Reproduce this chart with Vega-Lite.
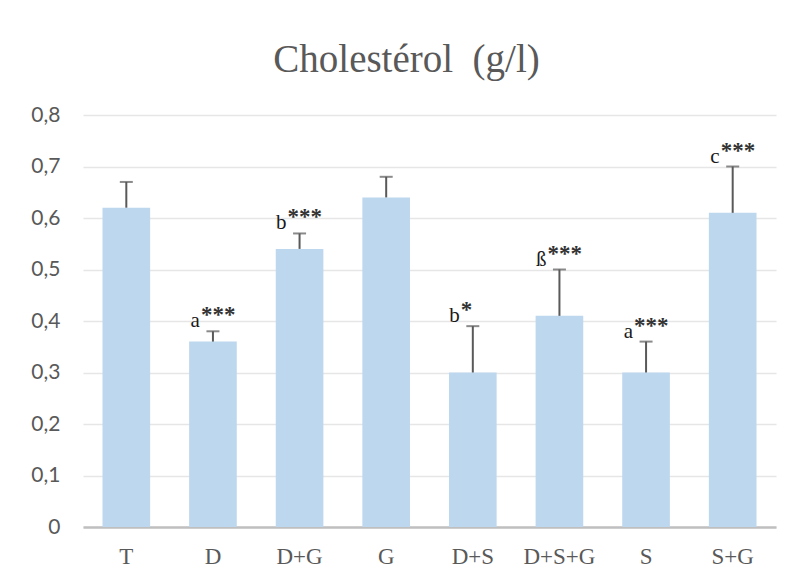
{
  "$schema": "https://vega.github.io/schema/vega-lite/v6.json",
  "width": 693,
  "height": 412,
  "autosize": {"type": "none"},
  "padding": {"left": 83, "top": 115, "right": 18, "bottom": 52},
  "background": "white",
  "title": {
    "text": "Cholestérol\u00a0 (g/l)",
    "font": "Liberation Serif, Times New Roman, serif",
    "fontSize": 39,
    "fontWeight": "normal",
    "color": "#595959",
    "anchor": "middle",
    "baseline": "alphabetic",
    "offset": -7,
    "dx": -23
  },
  "data": {
    "values": [
      {"group": "T", "mean": 0.62, "upper": 0.67, "letter": null, "stars": null},
      {"group": "D", "mean": 0.36, "upper": 0.38, "letter": "a", "stars": "***"},
      {"group": "D+G", "mean": 0.54, "upper": 0.57, "letter": "b", "stars": "***"},
      {"group": "G", "mean": 0.64, "upper": 0.68, "letter": null, "stars": null},
      {"group": "D+S", "mean": 0.30, "upper": 0.39, "letter": "b", "stars": "*"},
      {"group": "D+S+G", "mean": 0.41, "upper": 0.50, "letter": "ß", "stars": "***"},
      {"group": "S", "mean": 0.30, "upper": 0.36, "letter": "a", "stars": "***"},
      {"group": "S+G", "mean": 0.61, "upper": 0.70, "letter": "c", "stars": "***"}
    ]
  },
  "encoding": {
    "x": {
      "field": "group",
      "type": "nominal",
      "sort": null,
      "scale": {"paddingInner": 0.45, "paddingOuter": 0.225},
      "axis": {
        "title": null,
        "labelAngle": 0,
        "labelFont": "Liberation Serif",
        "labelFontSize": 23,
        "labelColor": "#595959",
        "labelPadding": 18,
        "ticks": false,
        "tickSize": 0,
        "domainColor": "#BFBFBF",
        "domainWidth": 2.5,
        "grid": false
      }
    }
  },
  "layer": [
    {
      "mark": {"type": "bar", "color": "#BDD7EE"},
      "encoding": {
        "y": {
          "field": "mean",
          "type": "quantitative",
          "scale": {"domain": [0, 0.8], "nice": false},
          "axis": {
            "title": null,
            "values": [0, 0.1, 0.2, 0.3, 0.4, 0.5, 0.6, 0.7, 0.8],
            "format": ",.1~f",
            "labelExpr": "replace(datum.label, '.', ',')",
            "labelFont": "Lato",
            "labelFontSize": 21,
            "labelColor": "#595959",
            "labelPadding": 23,
            "ticks": false,
            "tickSize": 0,
            "domain": false,
            "gridColor": "#E6E6E6",
            "gridWidth": 1.6
          }
        }
      }
    },
    {
      "mark": {"type": "rule", "color": "#595959", "strokeWidth": 2},
      "encoding": {
        "y": {"field": "mean", "type": "quantitative"},
        "y2": {"field": "upper"}
      }
    },
    {
      "mark": {"type": "tick", "color": "#595959", "thickness": 2, "size": 13, "orient": "horizontal"},
      "encoding": {
        "y": {"field": "upper", "type": "quantitative"}
      }
    },
    {
      "transform": [{"filter": "datum.letter != null"}],
      "mark": {
        "type": "text",
        "font": "Liberation Serif",
        "fontSize": 21,
        "color": "#1a1a1a",
        "align": "right",
        "baseline": "alphabetic",
        "dx": -13,
        "dy": -4
      },
      "encoding": {
        "y": {"field": "upper", "type": "quantitative"},
        "text": {"field": "letter"}
      }
    },
    {
      "transform": [{"filter": "datum.stars != null"}],
      "mark": {
        "type": "text",
        "font": "Liberation Serif",
        "fontSize": 23,
        "fontWeight": "bold",
        "color": "#333333",
        "align": "left",
        "baseline": "alphabetic",
        "dx": -12,
        "dy": -9
      },
      "encoding": {
        "y": {"field": "upper", "type": "quantitative"},
        "text": {"field": "stars"}
      }
    }
  ],
  "config": {
    "view": {"stroke": null},
    "title": {"font": "Liberation Serif, Times New Roman, serif", "fontWeight": "normal"}
  }
}
